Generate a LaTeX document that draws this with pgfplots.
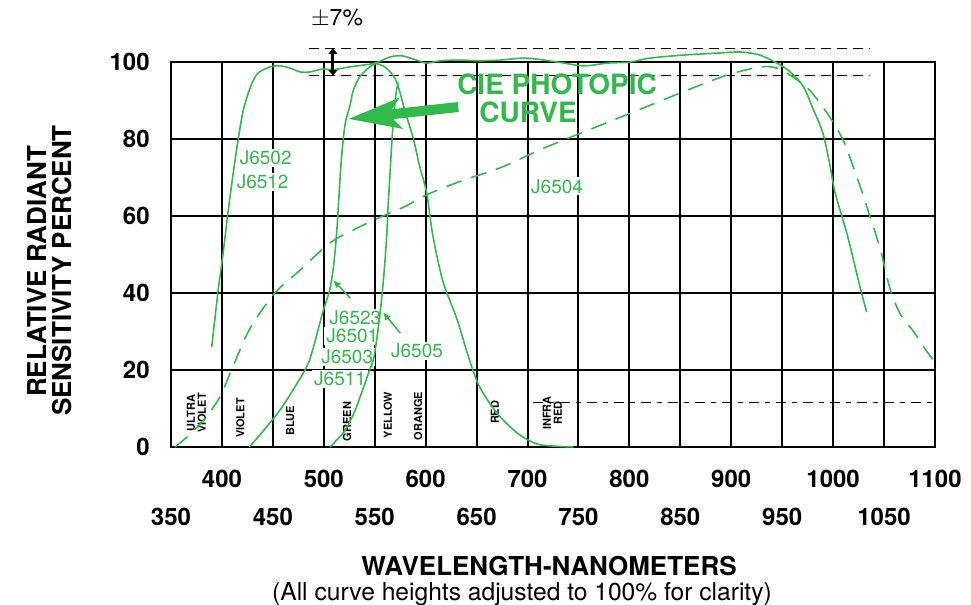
\documentclass[border=0pt]{standalone}
\usepackage{pgfplots}
\pgfplotsset{compat=1.18}
\usetikzlibrary{arrows.meta}
\usepackage{fontspec}
\setmainfont{TeX Gyre Heros}
\definecolor{cg}{RGB}{50,185,75}
\tikzset{rl/.style={rotate=90, font=\fontsize{5.5}{5.5}\selectfont\bfseries, align=center, inner sep=0pt},
cl/.style={text=cg, fill=white, inner sep=1pt, font=\fontsize{9.5}{9.5}\selectfont}}
\begin{document}
\begin{tikzpicture}
\path[use as bounding box] (0,0) rectangle (485.5pt,302.5pt);
\begin{axis}[
  at={(85.5pt,79pt)}, anchor=south west,
  scale only axis, width=382pt, height=192.5pt,
  xmin=350, xmax=1100, ymin=0, ymax=100,
  clip=false,
  axis line style={black, line width=1pt},
  grid=major,
  major grid style={black, line width=1pt},
  major tick length=0pt,
  xtick={350,400,...,1100},
  xticklabels={,400,,500,,600,,700,,800,,900,,1000,,1100},
  extra x ticks={350,450,...,1050},
  extra x tick style={grid=none, xticklabel style={yshift=-19pt}},
  ytick={0,20,...,100},
  /pgf/number format/assume math mode=true,
  /pgf/number format/1000 sep={},
  ticklabel style={font=\fontsize{12}{12}\selectfont\bfseries},
  xticklabel style={inner sep=0pt, anchor=north, yshift=-11.5pt},
  yticklabel style={inner sep=0pt, anchor=east, xshift=-10.5pt},
]
% region labels
\node[rl] at (axis cs:375,8.8) {ULTRA\\VIOLET};
\node[rl] at (axis cs:418,7.5) {VIOLET};
\node[rl] at (axis cs:467,6.8) {BLUE};
\node[rl] at (axis cs:523,6.6) {GREEN};
\node[rl] at (axis cs:563,8.3) {YELLOW};
\node[rl] at (axis cs:592.5,8) {ORANGE};
\node[rl] at (axis cs:668,9) {RED};
\node[rl] at (axis cs:724.5,8.8) {INFRA\\RED};
% curve labels
\node[cl] at (axis cs:443,75.1) {J6502};
\node[cl] at (axis cs:440,68.8) {J6512};
\node[cl] at (axis cs:729,67.7) {J6504};
\node[cl] at (axis cs:531,33.5) {J6523};
\node[cl] at (axis cs:528,28.8) {J6501};
\node[cl] at (axis cs:523,23.4) {J6503};
\node[cl] at (axis cs:516,17.7) {J6511};
\node[cl] at (axis cs:591.5,24.9) {J6505};
% +-7% band
\addplot[black, line width=0.8pt, dash pattern=on 5pt off 3pt] coordinates {(485,103.5) (1036,103.5)};
\addplot[black, line width=0.8pt, dash pattern=on 5pt off 3pt] coordinates {(485,96.5) (1036,96.5)};
% infrared line
\addplot[black, line width=0.7pt, dash pattern=on 5pt off 3pt on 2.5pt off 3pt] coordinates {(705,11.5) (1100,11.5)};
% J6504 dashed
\addplot[cg, line width=0.8pt, smooth, dash pattern=on 8pt off 5pt] coordinates {
(354,0) (370,3.6) (385,8) (398,13) (411,21) (428,31) (452,40) (477,46) (506,53)
(530,56.5) (558,60) (580,62.5) (601,65.5) (634,69) (673,72.5) (715,77.5) (752,81.5)
(801,86.7) (857,92.7) (896,96.6) (928,98.7) (945,98.4) (961,96) (977,92.7) (997,85.6)
(1010,79.6) (1020,72.6) (1029,65.8) (1036,60) (1046,51.7) (1056,41) (1066,34.5)
(1079,30) (1092,24.8) (1100,22)};
% J6502
\addplot[cg, line width=0.8pt, smooth] coordinates {
(390,26) (396,40) (401,50) (406,61) (411,71) (416,80) (421,87.5) (428,93.5) (435,97)
(447,98.7) (457,99) (467,98.4) (477,97.4) (486,97.4) (499,98.2) (509,98) (525,98.7)
(550,99.7) (565,101.3) (577,101.6) (591,100.5) (601,99.7) (614,100.3) (634,100.5)
(652,100.3) (673,100.5) (699,101) (729,100) (755,99) (778,99.7) (801,100) (820,101)
(853,101.8) (886,102.3) (909,102.6) (928,101.8) (945,99.7) (958,97.4) (971,93.5)
(980,88) (990,81.5) (997,73) (1002,66) (1014,55) (1026,42) (1033,35)};
% J6523
\addplot[cg, line width=0.8pt, smooth] coordinates {
(427,0) (440,4) (457,9.6) (474,16.6) (486,22.6) (499,35) (506,41) (510,48) (513,57)
(516,70) (518,77) (521,84) (526,89) (529,92.7) (535,96) (542,98) (550,99.5) (558,99)
(565,97.5) (572,94.5) (580,87) (588,80) (594,73) (601,66) (607,55) (617,43) (631,33)
(643,22.6) (653,15.6) (670,8.8) (690,3.6) (709,0.8) (728,0.2) (745,0)};
% J6505
\addplot[cg, line width=0.8pt, smooth] coordinates {
(506,0) (520,4) (530,9) (537,14) (545,20) (549,23) (553,30) (557,39) (560,48)
(562,56) (563,62) (565,71) (567,80) (569,87) (571,92) (573,94.8)};
% leaders
\draw[cg, line width=0.8pt, -{Latex[length=4pt,width=3.5pt]}] (axis cs:526,38.7) -- (axis cs:509,43.4);
\draw[cg, line width=0.8pt, -{Latex[length=4pt,width=3.5pt]}] (axis cs:575,29.6) -- (axis cs:558,35);
% CIE arrow
\draw[cg, line width=5pt, -{Stealth[length=26pt,width=15pt,inset=6pt]}] (axis cs:632,88.3) -- (axis cs:524,85.2);
\node[text=cg, font=\fontsize{14}{14}\selectfont\bfseries, inner sep=0pt] at (axis cs:729,94.1) {CIE PHOTOPIC};
\node[text=cg, font=\fontsize{14}{14}\selectfont\bfseries, inner sep=0pt] at (axis cs:700.5,87.0) {CURVE};
% +-7 arrow
\draw[black, line width=1.5pt, {Latex[length=3pt,width=5pt]}-{Latex[length=3pt,width=5pt]}] (axis cs:509,96.3) -- (axis cs:509,103.7);
\end{axis}
\node[font=\fontsize{11.5}{11.5}\selectfont] at (168.5pt,293.5pt) {$\pm$7\%};
\node[font=\fontsize{13}{13}\selectfont\bfseries, rotate=90, inner sep=0pt] at (18.5pt,166.75pt) {RELATIVE RADIANT};
\node[font=\fontsize{13}{13}\selectfont\bfseries, rotate=90, inner sep=0pt] at (31pt,167.25pt) {SENSITIVITY PERCENT};
\node[font=\fontsize{13}{13}\selectfont\bfseries, inner sep=0pt] at (274.5pt,19.5pt) {WAVELENGTH-NANOMETERS};
\node[font=\fontsize{12.3}{12.3}\selectfont, inner sep=0pt] at (261pt,5.5pt) {(All curve heights adjusted to 100\% for clarity)};
\end{tikzpicture}
\end{document}
